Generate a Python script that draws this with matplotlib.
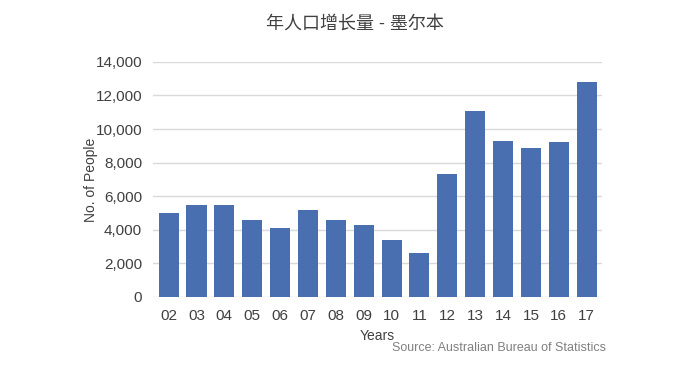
import matplotlib
matplotlib.use("Agg")
import matplotlib.pyplot as plt
from matplotlib.ticker import FuncFormatter
import numpy as np

plt.rcParams["font.family"] = ["Liberation Sans", "Noto Sans CJK SC", "DejaVu Sans"]

years = ["02", "03", "04", "05", "06", "07", "08", "09",
         "10", "11", "12", "13", "14", "15", "16", "17"]
growth = [5000, 5500, 5500, 4570, 4080, 5180, 4570, 4310,
          3380, 2620, 7310, 11100, 9290, 8860, 9200, 12830]

BAR_COLOR = "#4a6fb0"
TEXT_COLOR = "#404040"

fig = plt.figure(figsize=(7, 3.75), dpi=100)
ax = fig.add_axes([0.219, 0.208, 0.641, 0.627])

x = np.arange(len(years))
ax.bar(x, growth, width=0.72, color=BAR_COLOR, zorder=3)

ax.set_xlim(-0.55, len(years) - 0.45)
ax.set_ylim(0, 14000)
ax.set_yticks(range(0, 14001, 2000))
ax.yaxis.set_major_formatter(FuncFormatter(lambda v, p: f"{int(v):,}"))
ax.set_xticks(x)
ax.set_xticklabels(years)
ax.grid(True, axis="y", color="#d9d9d9", linewidth=1, zorder=0)
for s in ax.spines.values():
    s.set_visible(False)
ax.tick_params(length=0, labelsize=11, colors=TEXT_COLOR)
ax.tick_params(axis="x", pad=9)
ax.tick_params(axis="y", pad=8)

ax.set_ylabel("No. of People", fontsize=10, color=TEXT_COLOR, labelpad=-2)
ax.set_xlabel("Years", fontsize=10, color=TEXT_COLOR, labelpad=4)

fig.text(0.507, 0.935, "年人口增长量 - 墨尔本", ha="center", va="center",
         fontsize=13, color=TEXT_COLOR)
fig.text(0.865, 0.072, "Source: Australian Bureau of Statistics",
         ha="right", va="center", fontsize=9, color="#808080")

fig.savefig("out.png", dpi=100)
plt.close(fig)
